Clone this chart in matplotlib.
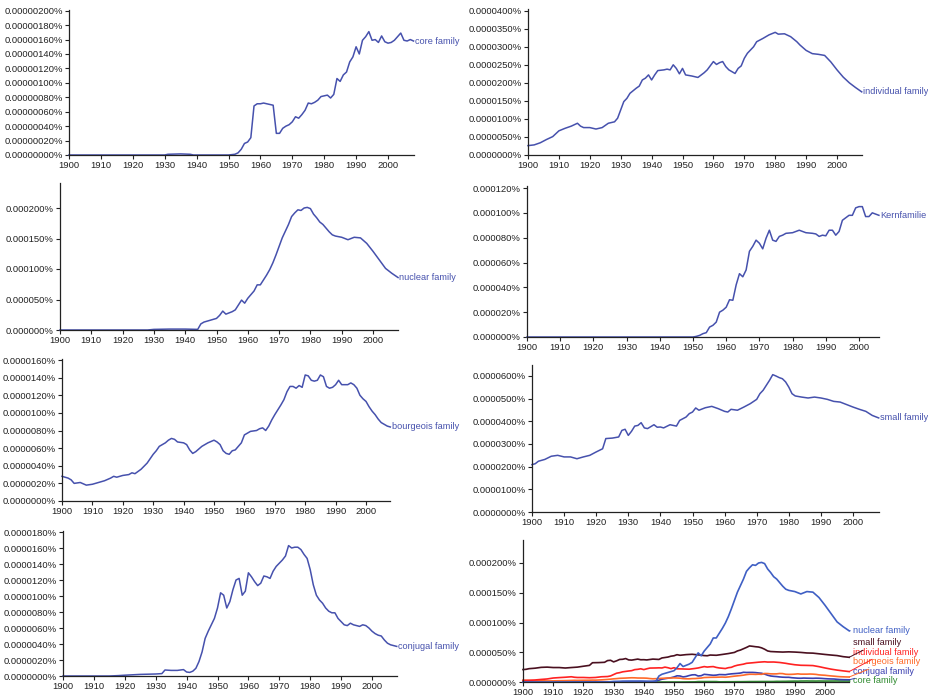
import numpy as np
import matplotlib
matplotlib.use("Agg")
import matplotlib.pyplot as plt
from matplotlib.ticker import FuncFormatter

plt.rcParams['font.family'] = ['Liberation Sans', 'DejaVu Sans']

# Yearly frequencies in percent of all n-grams, read per year.
# core family, values in 1e-8 %
core_years = [1900, 1930, 1931, 1935, 1938, 1939, 1950, 1951, 1952, 1953, 1954, 1955, 1956, 1957,
              1958, 1959, 1960, 1961, 1962, 1963, 1964, 1965, 1966, 1967, 1968, 1969, 1970, 1971,
              1972, 1973, 1974, 1975, 1976, 1977, 1978, 1979, 1980, 1981, 1982, 1983, 1984, 1985,
              1986, 1987, 1988, 1989, 1990, 1991, 1992, 1993, 1994, 1995, 1996, 1997, 1998, 1999,
              2000, 2001, 2002, 2003, 2004, 2005, 2006, 2007, 2008]
core_vals = [0, 0, 1, 1.5, 1, 0, 0, 0.5, 1, 3, 8, 16, 18, 24,
             68, 71, 71, 72, 71, 70, 69, 30, 30, 37, 40, 42, 46, 53,
             51, 56, 62, 72, 71, 73, 76, 81, 82, 83, 79, 84, 106, 102,
             111, 115, 129, 136, 150, 140, 159, 164, 171, 159, 160, 156, 165, 157,
             155, 156, 159, 164, 169, 159, 158, 160, 158]

# individual family, values in 1e-7 %
indiv_years = [1900, 1902, 1904, 1906, 1908, 1910, 1912, 1914, 1916, 1917, 1918, 1920, 1922, 1924,
               1926, 1928, 1929, 1930, 1931, 1932, 1933, 1935, 1936, 1937, 1938, 1939, 1940, 1941,
               1942, 1944, 1945, 1946, 1947, 1948, 1949, 1950, 1951, 1953, 1955, 1957, 1958, 1960,
               1961, 1962, 1963, 1964, 1965, 1967, 1968, 1969, 1970, 1971, 1973, 1974, 1976, 1978,
               1980, 1981, 1983, 1985, 1987, 1988, 1990, 1992, 1994, 1996, 1998, 2000, 2002, 2004,
               2006, 2008]
indiv_vals = [26, 28, 34, 43, 51, 67, 74, 80, 88, 80, 76, 76, 72, 76,
              88, 92, 102, 125, 148, 157, 171, 185, 191, 208, 213, 222, 208, 222,
              234, 236, 238, 236, 250, 240, 225, 240, 222, 219, 215, 228, 236, 259,
              251, 256, 259, 245, 236, 226, 240, 247, 268, 282, 300, 314, 323, 333,
              340, 335, 336, 328, 314, 305, 290, 281, 279, 276, 258, 236, 216, 200,
              187, 175]

# nuclear family, values in 1e-6 %
nuclear_years = [1900, 1928, 1930, 1935, 1940, 1944, 1945, 1946, 1948, 1950, 1951, 1952, 1953,
                 1955, 1956, 1957, 1958, 1959, 1960, 1961, 1962, 1963, 1964, 1965, 1966, 1967,
                 1968, 1969, 1970, 1971, 1972, 1973, 1974, 1975, 1976, 1977, 1978, 1979, 1980,
                 1981, 1982, 1983, 1984, 1985, 1986, 1987, 1988, 1990, 1992, 1994, 1996, 1998,
                 2000, 2002, 2004, 2006, 2008]
nuclear_vals = [0, 0, 1, 1.5, 1.5, 1, 10, 13, 16, 19, 24, 31, 26,
                30, 33, 41, 49, 44, 52, 58, 64, 74, 74, 82, 90, 99,
                110, 123, 137, 151, 162, 173, 186, 192, 197, 196, 200, 201, 199,
                190, 184, 177, 173, 167, 161, 156, 154, 152, 148, 152, 151, 142,
                129, 115, 101, 93, 86]

# Kernfamilie, values in 1e-6 %
kern_years = [1900, 1950, 1951, 1952, 1953, 1954, 1955, 1956, 1957, 1958, 1959, 1960, 1961, 1962,
              1963, 1964, 1965, 1966, 1967, 1968, 1969, 1970, 1971, 1972, 1973, 1974, 1975, 1976,
              1977, 1978, 1980, 1982, 1984, 1986, 1987, 1988, 1989, 1990, 1991, 1992, 1993, 1994,
              1995, 1996, 1997, 1998, 1999, 2000, 2001, 2002, 2003, 2004, 2005, 2006]
kern_vals = [0, 0, 0.5, 1.3, 2.7, 3.5, 8, 9.4, 12, 20, 21.6, 24, 30, 29.6,
             42, 51, 48.5, 54, 69, 73, 78, 75.5, 71, 79.5, 86, 78, 77, 81,
             82, 83.5, 84, 86, 84, 83.5, 83, 81, 82, 81.5, 86, 86, 82, 85,
             94, 96, 98, 98, 104, 105, 105, 97, 97, 100, 99, 98]

# bourgeois family, values in 1e-7 %
bourg_years = [1900, 1902, 1903, 1904, 1906, 1908, 1910, 1912, 1914, 1916, 1917, 1918, 1920, 1922,
               1923, 1924, 1926, 1928, 1929, 1930, 1931, 1932, 1933, 1934, 1935, 1936, 1937, 1938,
               1940, 1941, 1942, 1943, 1944, 1946, 1948, 1950, 1951, 1952, 1953, 1954, 1955, 1956,
               1957, 1958, 1959, 1960, 1962, 1964, 1965, 1966, 1967, 1968, 1969, 1970, 1972, 1973,
               1974, 1975, 1976, 1977, 1978, 1979, 1980, 1981, 1982, 1983, 1984, 1985, 1986, 1987,
               1988, 1989, 1990, 1991, 1992, 1994, 1995, 1996, 1997, 1998, 1999, 2000, 2001, 2002,
               2003, 2004, 2005, 2006, 2007, 2008]
bourg_vals = [28, 26, 24, 20, 21, 18, 19, 21, 23, 26, 28, 27, 29, 30,
              32, 31, 36, 43, 48, 53, 57, 62, 64, 66, 69, 71, 70, 67,
              66, 64, 58, 54, 56, 62, 66, 69, 67, 64, 57, 54, 53, 57,
              58, 62, 66, 75, 79, 80, 82, 83, 80, 85, 92, 98, 109, 115,
              124, 130, 130, 128, 131, 129, 143, 142, 137, 136, 137, 143, 141, 130,
              128, 129, 132, 137, 132, 132, 134, 132, 128, 120, 116, 113, 107, 102,
              98, 93, 89, 87, 85, 84]

# small family, values in 1e-7 %
small_years = [1900, 1901, 1902, 1904, 1906, 1908, 1910, 1912, 1914, 1916, 1918, 1920, 1922, 1923,
               1925, 1927, 1928, 1929, 1930, 1931, 1932, 1933, 1934, 1935, 1936, 1938, 1939, 1940,
               1941, 1943, 1945, 1946, 1948, 1949, 1950, 1951, 1952, 1954, 1956, 1958, 1960, 1961,
               1962, 1964, 1966, 1968, 1970, 1971, 1972, 1973, 1974, 1975, 1976, 1977, 1978, 1979,
               1980, 1981, 1982, 1984, 1986, 1988, 1990, 1992, 1994, 1996, 1998, 2000, 2002, 2004,
               2006, 2008]
small_vals = [209, 213, 224, 232, 246, 250, 243, 243, 235, 243, 250, 265, 279, 324,
              326, 331, 360, 365, 338, 356, 379, 382, 394, 371, 368, 385, 374, 375,
              371, 385, 379, 404, 419, 434, 441, 459, 449, 460, 466, 456, 444, 441,
              453, 449, 463, 478, 497, 522, 537, 559, 581, 606, 600, 593, 588, 574,
              551, 522, 512, 507, 503, 507, 503, 497, 488, 485, 474, 463, 453, 444,
              426, 415]

# conjugal family, values in 1e-7 %
conj_years = [1900, 1915, 1918, 1920, 1925, 1930, 1932, 1933, 1935, 1937, 1939, 1940, 1941, 1942,
              1943, 1944, 1945, 1946, 1947, 1948, 1949, 1950, 1951, 1952, 1953, 1954, 1955, 1956,
              1957, 1958, 1959, 1960, 1961, 1962, 1963, 1964, 1965, 1966, 1967, 1968, 1969, 1970,
              1971, 1972, 1973, 1974, 1975, 1976, 1977, 1978, 1979, 1980, 1981, 1982, 1983, 1984,
              1985, 1986, 1987, 1988, 1989, 1990, 1991, 1992, 1993, 1994, 1995, 1996, 1997, 1998,
              1999, 2000, 2001, 2002, 2003, 2004, 2005, 2006, 2007, 2008]
conj_vals = [0, 0, 0.5, 1, 2, 2.5, 3, 7.5, 7, 7, 8, 5, 4.5, 6,
             9.6, 18, 30, 47, 56, 64, 72, 85, 104, 101, 85, 93, 108, 120,
             122, 101, 106, 129, 124, 118, 113, 116, 125, 124, 122, 131, 137, 141,
             145, 150, 163, 160, 161, 161, 158, 152, 147, 133, 114, 101, 95, 91,
             85, 81, 79, 79, 72, 68, 64, 63, 66, 64, 63, 62, 64, 63,
             60, 56, 53, 51, 50, 45, 41, 39, 38, 37]

core = np.array(core_vals) * 1e-8
indiv = np.array(indiv_vals) * 1e-7
nuclear = np.array(nuclear_vals) * 1e-6
kern = np.array(kern_vals) * 1e-6
bourg = np.array(bourg_vals) * 1e-7
small = np.array(small_vals) * 1e-7
conj = np.array(conj_vals) * 1e-7

W, H = 929, 698
BLUE = '#4651ad'
TICK_YEARS = np.arange(1900, 2001, 10)

fig = plt.figure(figsize=(W / 100, H / 100), dpi=100)
fig.patch.set_facecolor('white')


def make_axes(x1900, px_per_year, y0, tick_px, tick_val, top_px, step, decimals, xend=2008):
    """Place an axes in pixel units so that 1900 sits at x1900 and tick_val at tick_px."""
    width = (xend - 1900) * px_per_year
    ytop = tick_val * (y0 - top_px) / (y0 - tick_px)
    ax = fig.add_axes([x1900 / W, (H - y0) / H, width / W, (y0 - top_px) / H])
    ax.set_xlim(1900, xend)
    ax.set_ylim(0, ytop)
    ax.set_xticks(TICK_YEARS)
    ax.set_yticks(np.arange(0, tick_val + step / 2, step))
    ax.yaxis.set_major_formatter(FuncFormatter(lambda v, _: f"{v:.{decimals}f}%"))
    for side in ('top', 'right'):
        ax.spines[side].set_visible(False)
    for side in ('left', 'bottom'):
        ax.spines[side].set_linewidth(0.9)
        ax.spines[side].set_color('#222222')
    ax.tick_params(length=3, width=0.8, labelsize=6.8, pad=1.5, colors='#222222')
    ax.patch.set_alpha(0)
    return ax


def single(ax, years, vals, label):
    ax.plot(years, vals, color=BLUE, lw=1.1, clip_on=False)
    ax.text(years[-1] + 0.4, vals[-1], label, color=BLUE, fontsize=6.6,
            va='center', ha='left', clip_on=False)


ax1 = make_axes(69, 3.19, 155, 10.7, 2e-6, 9.5, 2e-7, 8)
single(ax1, core_years, core, 'core family')

ax2 = make_axes(528, 3.09, 155, 10.7, 4e-5, 9.5, 5e-6, 7)
single(ax2, indiv_years, indiv, 'individual family')

ax3 = make_axes(60, 3.13, 330, 208, 2e-4, 183, 5e-5, 6)
single(ax3, nuclear_years, nuclear, 'nuclear family')

ax4 = make_axes(527, 3.32, 337, 188, 1.2e-4, 186, 2e-5, 6, xend=2006)
single(ax4, kern_years, kern, 'Kernfamilie')

ax5 = make_axes(62, 3.04, 501, 360, 1.6e-5, 359, 2e-6, 7)
single(ax5, bourg_years, bourg, 'bourgeois family')

ax6 = make_axes(532, 3.21, 512, 376, 6e-5, 365, 1e-5, 7)
single(ax6, small_years, small, 'small family')

ax7 = make_axes(63, 3.09, 676, 532, 1.8e-5, 531, 2e-6, 7)
single(ax7, conj_years, conj, 'conjugal family')

# All six English phrases on one shared scale
ax8 = make_axes(523, 3.02, 682, 563, 2e-4, 540, 5e-5, 6)
combined = [
    (core_years, core, 'core family', '#2f8a2f', 0.014),
    (conj_years, conj, 'conjugal family', '#3a3fb0', 0.077),
    (bourg_years, bourg, 'bourgeois family', '#ff6a2a', 0.141),
    (indiv_years, indiv, 'individual family', '#ff2222', 0.211),
    (small_years, small, 'small family', '#4a1020', 0.275),
    (nuclear_years, nuclear, 'nuclear family', '#3f5fc4', 0.366),
]
for years, vals, label, color, label_y in combined:
    ax8.plot(years, vals, color=color, lw=1.2, clip_on=False)
    ax8.annotate(label, xy=(years[-1], vals[-1]), xycoords='data',
                 xytext=(2009.3, label_y), textcoords=('data', 'axes fraction'),
                 color=color, fontsize=6.6, va='center', ha='left',
                 arrowprops=dict(arrowstyle='-', color=color, lw=0.7,
                                 shrinkA=0, shrinkB=0))

fig.savefig('out.png', dpi=100, facecolor='white')
